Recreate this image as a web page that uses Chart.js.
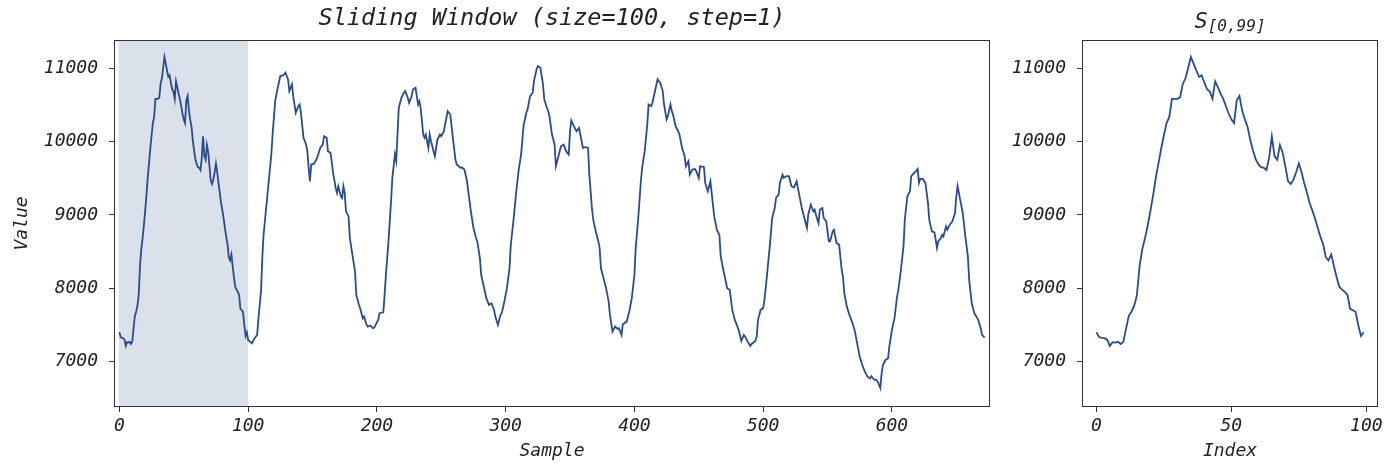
<!DOCTYPE html>
<html><head><meta charset="utf-8">
<script src="https://cdn.jsdelivr.net/npm/chart.js@4.4.1/dist/chart.umd.min.js"></script>
<style>
html,body{margin:0;padding:0;background:#fff;}
#wrap{position:relative;width:1385px;height:466px;overflow:hidden;background:#fff;}
#c1{position:absolute;left:0;top:0;}
#c2{position:absolute;left:1000px;top:0;}
</style></head><body>
<div id="wrap"><canvas id="c1" width="1000" height="466"></canvas><canvas id="c2" width="385" height="466"></canvas></div>
<script>
// ---- data ----
const windowSize = 100;
const mainTitle = 'Sliding Window (size=100, step=1)';
const windowTitleMain = 'S';
const windowTitleSub = '[0,99]';
const mainXLabel = 'Sample';
const windowXLabel = 'Index';
const yLabel = 'Value';
const mainXTicks = [0, 100, 200, 300, 400, 500, 600];
const windowXTicks = [0, 50, 100];
const yTicks = [7000, 8000, 9000, 10000, 11000];

// samples 0..99 (the first window)
const windowValues = [
  7400, 7335, 7325, 7320, 7300, 7215, 7265, 7260, 7270, 7240,
  7270, 7450, 7620, 7680, 7760, 7900, 8300, 8530, 8680, 8850,
  9050, 9260, 9500, 9700, 9900, 10080, 10250, 10330, 10580, 10580,
  10580, 10600, 10780, 10860, 11000, 11150, 11060, 10970, 10880, 10900,
  10800, 10710, 10680, 10580, 10820, 10740, 10650, 10580, 10480, 10380,
  10300, 10250, 10560, 10620, 10420, 10300, 10200, 10020, 9880, 9760,
  9690, 9650, 9640, 9610, 9780, 10070, 9800, 9750, 9950, 9850,
  9660, 9460, 9420, 9480, 9580, 9700, 9580, 9430, 9300, 9160,
  9060, 8950, 8820, 8700, 8600, 8420, 8380, 8460, 8300, 8150,
  8020, 7980, 7950, 7910, 7720, 7700, 7680, 7500, 7350, 7400
];

// samples 100..672 (at the sample positions below)
const restIndex = [
  100, 101, 103, 105, 107, 108, 110, 111, 112, 114,
  116, 118, 119, 121, 123, 125, 127, 128, 129, 131,
  132, 134, 135, 137, 139, 140, 141, 143, 145, 146,
  147, 148, 149, 151, 153, 154, 156, 158, 159, 161,
  162, 164, 166, 168, 169, 170, 172, 173, 174, 175,
  176, 178, 179, 181, 183, 184, 186, 187, 189, 190,
  192, 193, 195, 197, 198, 199, 201, 202, 205, 206,
  207, 209, 211, 212, 214,
  215, 216, 217, 219, 221, 222, 224, 225, 227, 228,
  230, 232, 233, 234, 236, 237, 238, 240, 241, 242,
  244, 245, 247, 249, 250, 252, 254, 255, 257, 259,
  261, 262, 265, 266, 268, 270, 272, 273, 275, 277,
  278, 280, 281, 283, 285, 287, 289, 291, 292, 294,
  296, 297, 299, 301, 303, 304, 306, 308, 310, 312,
  314, 315, 316, 317, 319, 321, 322, 324, 325,
  327, 329, 330, 332, 333, 334, 336, 338, 339, 341,
  343, 345, 347, 349, 350, 351, 353, 355, 357, 358,
  360, 362, 364, 365, 367, 368, 370, 372, 373, 374,
  376, 378, 380, 381, 383, 385, 387, 388, 390, 391,
  394, 396, 398, 400, 401, 403, 405, 406, 408, 410,
  411, 413, 414, 416, 418, 420, 422, 423, 425, 426,
  428, 429, 430, 432, 434, 435, 437, 439,
  440, 442, 443, 445, 447, 448, 450, 451, 454, 455,
  457, 459, 460, 462, 464, 466, 467, 469, 471, 472,
  474, 476, 478, 480, 481, 483, 485, 486, 488, 490,
  491, 494, 495, 496, 498, 500, 501, 503, 505, 507,
  509, 510, 512, 513, 515, 516, 518, 520, 522, 524,
  526, 528, 530, 532, 534, 535, 537, 539, 540, 541,
  543, 544, 546, 547, 549, 550, 551,
  552, 554, 555, 557, 559, 561, 562, 563, 565, 567,
  569, 571, 573, 575, 577, 579, 581, 583, 584, 586,
  588, 589, 591, 592, 593, 595, 597, 598, 600, 602,
  604, 605, 607, 609, 610, 612, 614, 615, 616, 618,
  620, 621, 622, 624, 626, 628, 629, 631, 633, 634,
  635, 636, 638, 639, 640, 642, 643, 645, 647, 649,
  650, 651, 653, 655, 657, 659, 660, 662, 664, 667,
  669, 670, 672
];
const restValue = [
  7296, 7280, 7250, 7320, 7364, 7590, 7956, 8410, 8730, 9093,
  9457, 9821, 10094, 10549, 10731, 10890, 10900, 10913, 10936, 10845,
  10686, 10777, 10617, 10390, 10481, 10504, 10390, 10049, 9958, 9867,
  9639, 9457, 9685, 9694, 9753, 9798, 9912, 9958, 10071, 10049,
  9867, 9844, 9571, 9366, 9298, 9389, 9252, 9230, 9389, 9298,
  9048, 8979, 8684, 8456, 8229, 7910, 7774, 7728, 7592, 7614,
  7501, 7478, 7491, 7455, 7464, 7501, 7569, 7660, 7673, 7910,
  8183, 8638, 9184, 9503, 9821,
  9730, 10094, 10458, 10595, 10663, 10686, 10595, 10526, 10617, 10708,
  10731, 10504, 10549, 10458, 10094, 10049, 10094, 9912, 10094, 10003,
  9867, 9798, 10026, 10094, 10071, 10139, 10322, 10413, 10367, 10049,
  9753, 9685, 9639, 9648, 9617, 9457, 9184, 9048, 8820, 8684,
  8638, 8411, 8183, 8024, 7865, 7774, 7796, 7705, 7614, 7501,
  7637, 7660, 7819, 8001, 8274, 8593, 8911, 9275, 9594, 9821,
  10230, 10299, 10390, 10436, 10617, 10663, 10822, 10981, 11026,
  11003, 10777, 10572, 10458, 10413, 10345, 10094, 9958, 9662, 9798,
  9935, 9958, 9867, 9821, 10139, 10285, 10208, 10139, 10185, 10094,
  9912, 9921, 9912, 9548, 9093, 8934, 8775, 8638, 8547, 8275,
  8138, 8001, 7819, 7637, 7410, 7478, 7446, 7455, 7364, 7510,
  7546, 7683, 7865, 8183, 8547, 8957, 9457, 9639, 9867, 10230,
  10503, 10481, 10526, 10686, 10845, 10799, 10686, 10503, 10299, 10345,
  10503, 10413, 10367, 10208, 10139, 10094, 9912, 9798,
  9662, 9730, 9548, 9616, 9625, 9594, 9503, 9662, 9653, 9435,
  9321, 9457, 9298, 8979, 8797, 8729, 8438, 8256, 8092, 8001,
  7978, 7705, 7569, 7478, 7432, 7282, 7364, 7341, 7273, 7214,
  7241, 7282, 7341, 7569, 7705, 7728, 7842, 8183, 8547, 8957,
  9093, 9230, 9275, 9435, 9548, 9503, 9526, 9526, 9389, 9375,
  9457, 9275, 9093, 8957, 8820, 9002, 9139, 9048, 9070, 9002,
  8888, 9070, 9093, 8957, 8911, 8775, 8638,
  8638, 8775, 8797, 8615, 8593, 8252, 8160, 7933, 7750, 7637,
  7546, 7432, 7250, 7068, 6954, 6863, 6795, 6772, 6804, 6758,
  6750, 6727, 6640, 6840, 6954, 7023, 7046, 7205, 7432, 7592,
  7887, 7978, 8252, 8570, 8934, 9253, 9321, 9526, 9548, 9580,
  9626, 9435, 9489, 9489, 9435, 9162, 8934, 8775, 8761, 8661,
  8547, 8638, 8684, 8729, 8706, 8843, 8797, 8866, 8911, 9025,
  9253, 9389, 9207, 9025, 8706, 8434, 8115, 7796, 7660, 7569,
  7455, 7364, 7328
];

// ---- style ----
const FONT = "'DejaVu Sans Mono', monospace";
const INK = '#222222';
const SPINE = '#333333';
const LINE = '#2b4c8a';
const SHADE = 'rgba(43,76,138,0.17)';
const Y_MIN = 6396, Y_MAX = 11368;

const windowPts = windowValues.map((v, i) => ({ x: i, y: v }));
const mainPts = windowPts.concat(restIndex.map((x, k) => ({ x: x, y: restValue[k] })));

const frame = {
  id: 'frame',
  afterDatasetsDraw(chart) {
    const { ctx, chartArea: a } = chart;
    ctx.save();
    ctx.strokeStyle = SPINE;
    ctx.lineWidth = 1;
    ctx.strokeRect(Math.round(a.left) - 0.5, Math.round(a.top) - 0.5,
      Math.round(a.right - a.left) + 1, Math.round(a.bottom - a.top) + 1);
    ctx.restore();
  }
};

const shade = {
  id: 'shade',
  beforeDatasetsDraw(chart) {
    const { ctx, chartArea: a, scales: { x } } = chart;
    const x0 = x.getPixelForValue(-0.5);
    const x1 = x.getPixelForValue(windowSize);
    ctx.save();
    ctx.fillStyle = SHADE;
    ctx.fillRect(x0, a.top, x1 - x0, a.bottom - a.top);
    ctx.restore();
  }
};

const subTitle = {
  id: 'subTitle',
  afterDraw(chart) {
    const { ctx, chartArea: a } = chart;
    ctx.save();
    ctx.fillStyle = INK;
    ctx.textBaseline = 'alphabetic';
    ctx.textAlign = 'left';
    const fMain = 'italic 22px ' + FONT;
    const fSub = 'italic 16px ' + FONT;
    ctx.font = fMain; const w1 = ctx.measureText(windowTitleMain).width;
    ctx.font = fSub; const w2 = ctx.measureText(windowTitleSub).width;
    const cx = (a.left + a.right) / 2;
    const x0 = cx - (w1 + w2) / 2;
    ctx.font = fMain; ctx.fillText(windowTitleMain, x0, 28);
    ctx.font = fSub; ctx.fillText(windowTitleSub, x0 + w1, 31);
    ctx.restore();
  }
};

function tickFont() { return { family: FONT, size: 18, style: 'italic' }; }

function yScale(width, withTitle) {
  return {
    type: 'linear', min: Y_MIN, max: Y_MAX,
    afterBuildTicks: s => { s.ticks = yTicks.map(v => ({ value: v })); },
    afterFit: s => { s.width = width; s.paddingTop = 0; s.paddingBottom = 0; },
    ticks: { color: INK, font: tickFont(), padding: 11, callback: v => String(v) },
    grid: { drawOnChartArea: false, drawTicks: true, tickLength: 6, color: SPINE },
    border: { display: false },
    title: { display: withTitle, text: yLabel, color: INK, font: tickFont(), padding: { top: 12, bottom: 0 } }
  };
}
function xScale(min, max, ticks, label) {
  return {
    type: 'linear', min: min, max: max,
    afterBuildTicks: s => { s.ticks = ticks.map(v => ({ value: v })); },
    afterFit: s => { s.height = 60; s.paddingLeft = 0; s.paddingRight = 0; },
    ticks: { color: INK, font: tickFont(), padding: 4, maxRotation: 0, autoSkip: false, callback: v => String(v) },
    grid: { drawOnChartArea: false, drawTicks: true, tickLength: 6, color: SPINE },
    border: { display: false },
    title: { display: true, text: label, color: INK, font: tickFont(), padding: { top: 0, bottom: 4 } }
  };
}
function lineDataset(data) {
  return { data: data, borderColor: LINE, borderWidth: 1.8, pointRadius: 0, tension: 0, fill: false };
}

new Chart(document.getElementById('c1'), {
  type: 'line',
  data: { datasets: [lineDataset(mainPts)] },
  options: {
    responsive: false, animation: false, devicePixelRatio: 1,
    layout: { padding: { left: 0, right: 11, top: 0, bottom: 0 } },
    plugins: {
      legend: { display: false }, tooltip: { enabled: false },
      title: { display: true, text: mainTitle, fullSize: false, color: INK,
        font: { family: FONT, size: 23.5, style: 'italic', weight: 'normal' }, padding: { top: 5, bottom: 7.8 } }
    },
    scales: { x: xScale(-3.4, 675.4, mainXTicks, mainXLabel), y: yScale(115, true) }
  },
  plugins: [shade, frame]
});

new Chart(document.getElementById('c2'), {
  type: 'line',
  data: { datasets: [lineDataset(windowPts)] },
  options: {
    responsive: false, animation: false, devicePixelRatio: 1,
    layout: { padding: { left: 0, right: 8, top: 41, bottom: 0 } },
    plugins: { legend: { display: false }, tooltip: { enabled: false }, title: { display: false } },
    scales: { x: xScale(-4.95, 103.95, windowXTicks, windowXLabel), y: yScale(83, false) }
  },
  plugins: [frame, subTitle]
});
</script>
</body></html>
